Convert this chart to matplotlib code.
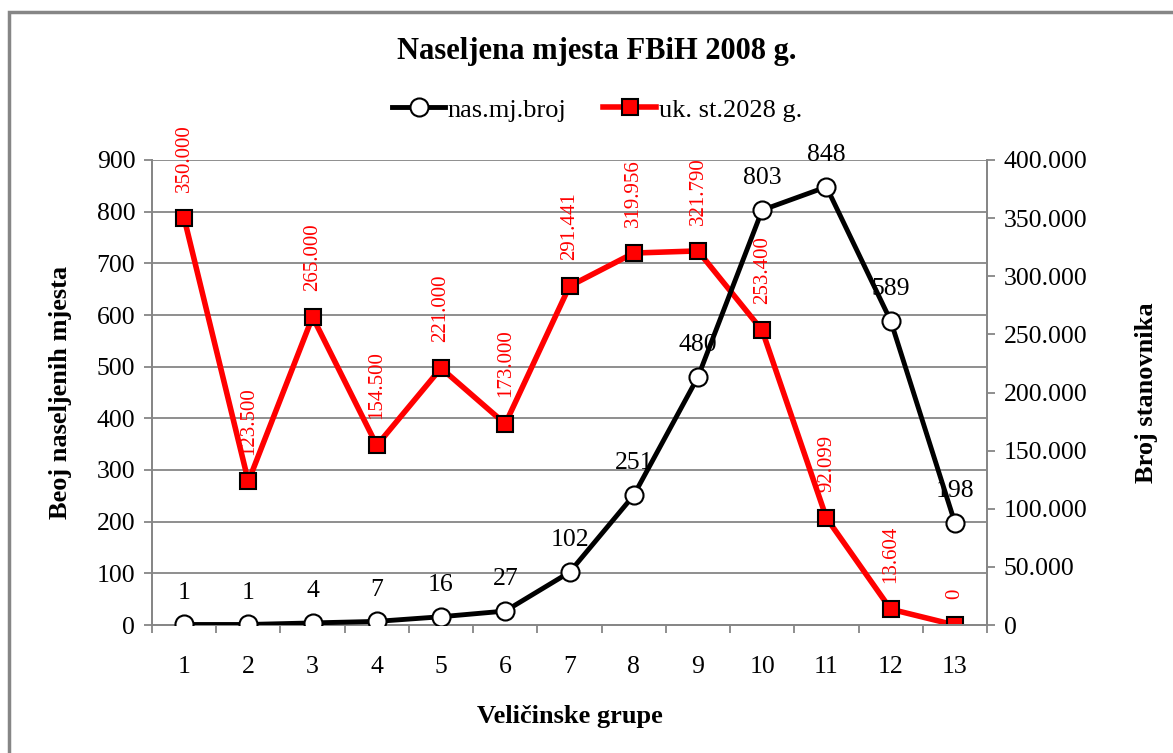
import matplotlib.pyplot as plt
from matplotlib.ticker import FuncFormatter, MultipleLocator
from matplotlib.lines import Line2D
from matplotlib.patches import Rectangle

plt.rcParams['font.family'] = ['Liberation Serif', 'DejaVu Serif']

# data
groups = list(range(1, 14))
nas_mj_broj = [1, 1, 4, 7, 16, 27, 102, 251, 480, 803, 848, 589, 198]
uk_st = [350000, 123500, 265000, 154500, 221000, 173000, 291441, 319956,
         321790, 253400, 92099, 13604, 0]

gray = '#868686'
left_max, right_max = 900, 400000


def dots(v, pos=None):
    return f'{int(v):,}'.replace(',', '.')


fig = plt.figure(figsize=(11.73, 7.53), dpi=100)
ax = fig.add_axes([152 / 1173, 1 - 625 / 753, 835 / 1173, 465 / 753])
ax2 = ax.twinx()

# gridlines follow the left axis ticks, drawn on ax2 so they stay behind the red line
for g in range(100, left_max + 1, 100):
    ax2.axhline(g * right_max / left_max, color=gray, lw=1.3, zorder=0)

# red series on the secondary axis
ax2.plot(groups, uk_st, color='red', lw=4, marker='s', markersize=12,
         markerfacecolor='red', markeredgecolor='black', markeredgewidth=1.5,
         zorder=2)
ax2.set_ylim(0, right_max)
ax2.yaxis.set_major_locator(MultipleLocator(50000))
ax2.yaxis.set_major_formatter(FuncFormatter(dots))
for x, v in zip(groups, uk_st):
    ax2.annotate(dots(v), (x, v), xytext=(0, 19), textcoords='offset points',
                 rotation=90, ha='center', va='bottom', color='red', fontsize=15)

# black series on the primary axis, drawn on top
ax.set_zorder(ax2.get_zorder() + 1)
ax.patch.set_visible(False)
ax.plot(groups, nas_mj_broj, color='black', lw=3.5, marker='o', markersize=13,
        markerfacecolor='white', markeredgecolor='black', markeredgewidth=1.5,
        zorder=3)
ax.set_ylim(0, left_max)
ax.yaxis.set_major_locator(MultipleLocator(100))
for x, v in zip(groups, nas_mj_broj):
    ax.annotate(str(v), (x, v), xytext=(0, 15), textcoords='offset points',
                ha='center', va='bottom', fontsize=18.5, zorder=2)

ax.set_xlim(0.5, 13.5)
ax.set_xticks(groups)
ax.set_xticks([g + 0.5 for g in [0] + groups], minor=True)
ax.tick_params(axis='x', which='major', length=0, pad=22, labelsize=18.5)
ax.tick_params(axis='x', which='minor', length=6, color=gray, width=1.3)
ax.tick_params(axis='y', length=6, color=gray, width=1.3, labelsize=18.5, pad=6)
ax2.tick_params(axis='y', length=6, color=gray, width=1.3, labelsize=18.5, pad=6)

for a in (ax, ax2):
    a.spines['top'].set_visible(False)
    for s in ('left', 'right', 'bottom'):
        a.spines[s].set_color(gray)
        a.spines[s].set_linewidth(1.3)

ax.set_xlabel('Veličinske grupe', fontsize=19, fontweight='bold', labelpad=20)
ax.set_ylabel('Beoj naseljenih mjesta', fontsize=19, fontweight='bold', labelpad=18)
ax2.set_ylabel('Broj stanovnika', fontsize=19, fontweight='bold', labelpad=34)

fig.suptitle('Naseljena mjesta FBiH 2008 g.', fontsize=22, fontweight='bold',
             x=0.509, y=1 - 51 / 753, va='center')

handles = [
    Line2D([], [], color='black', lw=3.5, marker='o', markersize=13,
           markerfacecolor='white', markeredgecolor='black', markeredgewidth=1.5),
    Line2D([], [], color='red', lw=4, marker='s', markersize=12,
           markerfacecolor='red', markeredgecolor='black', markeredgewidth=1.5),
]
fig.legend(handles, ['nas.mj.broj', 'uk. st.2028 g.'], loc='center',
           bbox_to_anchor=(0.509, 1 - 110 / 753), ncol=2, frameon=False,
           fontsize=19, handlelength=2.0, handletextpad=0.1, columnspacing=1.4)

# chart border (top and left visible in the reference)
fig.patches.append(Rectangle((9 / 1173, -0.05), 1.2, 1 - 12 / 753 + 0.05,
                             transform=fig.transFigure, fill=False,
                             edgecolor=gray, lw=2.5))

fig.savefig('out.png', dpi=100)
